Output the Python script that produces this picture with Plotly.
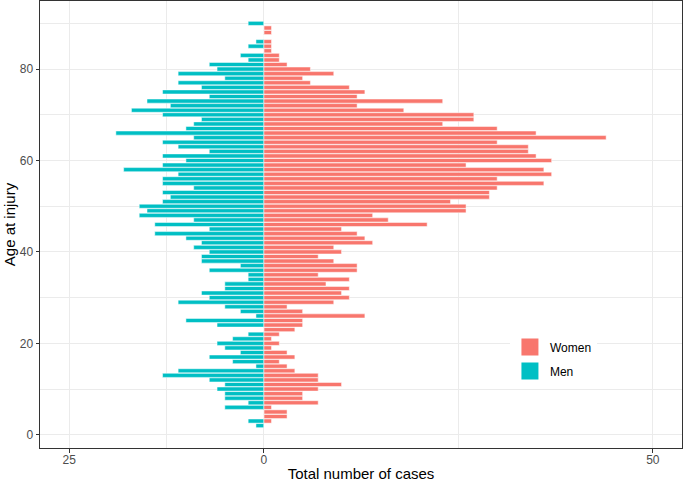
import plotly.graph_objects as go

ages = list(range(2, 91))
men = [1, 2, 0, 0, 5, 2, 5, 5, 6, 5,      # 2-11
       7, 13, 11, 1, 4, 7, 3, 5, 6, 4,    # 12-21
       2, 0, 6, 10, 1, 3, 5, 11, 7, 8,    # 22-31
       5, 5, 2, 2, 7, 3, 8, 8, 7, 9,      # 32-41
       8, 10, 14, 7, 14, 9, 16, 15, 16, 13,  # 42-51
       12, 13, 9, 13, 13, 11, 18, 13, 10, 13,  # 52-61
       7, 11, 13, 9, 19, 10, 9, 8, 13, 17,  # 62-71
       12, 15, 7, 13, 8, 11, 5, 11, 6, 7,   # 72-81
       2, 3, 0, 2, 1, 0, 0, 0, 2]           # 82-90
women = [0, 1, 3, 3, 1, 7, 5, 5, 7, 10,    # 2-11
         7, 7, 4, 3, 2, 4, 3, 1, 2, 1,     # 12-21
         2, 4, 5, 5, 13, 5, 3, 9, 11, 10,  # 22-31
         11, 8, 11, 7, 12, 12, 9, 7, 10, 9,  # 32-41
         14, 13, 12, 10, 21, 16, 14, 26, 26, 24,  # 42-51
         29, 29, 30, 36, 30, 37, 36, 26, 37, 35,  # 52-61
         34, 34, 30, 44, 35, 30, 23, 27, 27, 18,  # 62-71
         12, 23, 12, 13, 11, 6, 5, 9, 6, 3,   # 72-81
         2, 2, 1, 1, 1, 0, 1, 1, 0]           # 82-90

x_tickvals = [-25, 0, 50]
x_ticktext = ["25", "0", "50"]
y_tickvals = [0, 20, 40, 60, 80]

RED = "#F8766D"
TEAL = "#00BFC4"
FONT = "Liberation Sans, Arial, Helvetica, sans-serif"

fig = go.Figure()
fig.add_trace(go.Bar(
    y=ages, x=women, orientation="h", name="Women", width=0.9,
    marker=dict(color=RED, line=dict(color="white", width=0.5)),
    showlegend=False,
))
fig.add_trace(go.Bar(
    y=ages, x=[-v for v in men], orientation="h", name="Men", width=0.9,
    marker=dict(color=TEAL, line=dict(color="white", width=0.5)),
    showlegend=False,
))
# legend entries (larger keys, as in the reference)
fig.add_trace(go.Bar(
    y=[None], x=[None], orientation="h", name="Women", legendgroup="w",
    marker=dict(color=RED, line=dict(color=RED, width=5)),
))
fig.add_trace(go.Bar(
    y=[None], x=[None], orientation="h", name="Men", legendgroup="m",
    marker=dict(color=TEAL, line=dict(color=TEAL, width=5)),
))

axis_common = dict(
    showline=True, mirror=True, linecolor="#333333", linewidth=1,
    ticks="outside", ticklen=3.5, tickcolor="#333333", tickwidth=1,
    tickfont=dict(size=12, color="#4D4D4D", family=FONT),
    showgrid=True, gridcolor="#EBEBEB", gridwidth=1.2,
    zeroline=False, automargin=False,
)

fig.update_layout(
    width=685, height=483,
    margin=dict(l=40, r=3, t=1, b=35),
    plot_bgcolor="white", paper_bgcolor="white",
    barmode="overlay",
    font=dict(family=FONT, color="black"),
    xaxis=dict(
        range=[-28.75, 53.75], tickmode="array",
        tickvals=x_tickvals, ticktext=x_ticktext, ticklabelstandoff=-3,
        title=dict(text="Total number of cases", font=dict(size=15, color="black"), standoff=2),
        minor=dict(tickmode="array", tickvals=[-12.5, 25], showgrid=True,
                   gridcolor="#EBEBEB", gridwidth=0.6, ticks=""),
        **axis_common,
    ),
    yaxis=dict(
        range=[-2.895, 94.895], tickmode="array", tickvals=y_tickvals,
        title=dict(text="Age at injury", font=dict(size=15, color="black"), standoff=0),
        minor=dict(tickmode="array", tickvals=[10, 30, 50, 70, 90], showgrid=True,
                   gridcolor="#EBEBEB", gridwidth=0.6, ticks=""),
        **axis_common,
    ),
    legend=dict(
        x=0.732, y=0.199, xanchor="left", yanchor="middle",
        bgcolor="white", font=dict(size=12, color="black", family=FONT),
        traceorder="grouped", tracegroupgap=5, itemwidth=30,
    ),
    showlegend=True,
)

fig.write_html("out.html")
